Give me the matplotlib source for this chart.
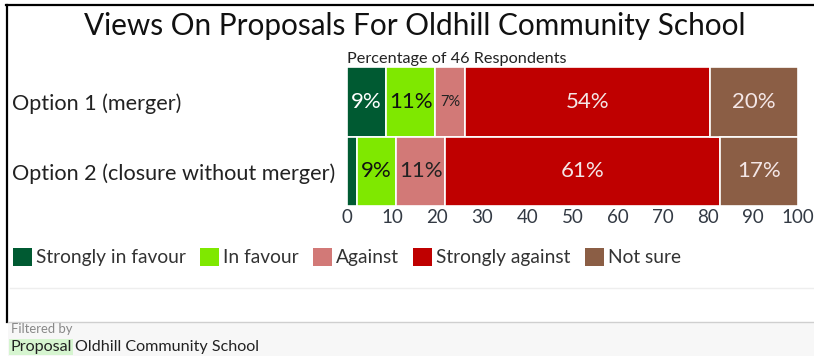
import matplotlib
matplotlib.use('Agg')
import matplotlib.pyplot as plt
from matplotlib.patches import Patch, Rectangle
from matplotlib.lines import Line2D
import numpy as np

plt.rcParams['font.family'] = ['Lato', 'DejaVu Sans']

# survey answers (number of respondents per option)
options = ['Option 1 (merger)', 'Option 2 (closure without merger)']
responses = ['Strongly in favour', 'In favour', 'Against', 'Strongly against', 'Not sure']
counts = [
    [4, 5, 3, 25, 9],
    [1, 4, 5, 28, 8],
]
respondents = 46
colors = ['#005a32', '#7fe800', '#d27977', '#bf0000', '#8b5e45']
label_colors = ['white', '#111111', '#222222', '#f4e6e6', '#f4e6e6']

W, H = 814, 356
fig = plt.figure(figsize=(W / 100, H / 100), dpi=100)
ax = fig.add_axes([347 / W, 1 - 206 / H, (798 - 347) / W, (206 - 67) / H])

pct = np.array(counts) / respondents * 100
y = np.arange(len(options))
left = np.zeros(len(options))
for j, resp in enumerate(responses):
    vals = pct[:, j]
    ax.barh(y, vals, left=left, height=1.0, color=colors[j],
            edgecolor='white', linewidth=1.2, label=resp)
    for i in range(len(options)):
        v = vals[i]
        if v >= 5:
            fs = 16 if v >= 8 else 10.5
            ax.text(left[i] + v / 2, y[i], '%d%%' % round(v), ha='center',
                    va='center', fontsize=fs, color=label_colors[j])
    left += vals

ax.set_xlim(0, 100)
ax.set_ylim(1.5, -0.5)
ax.set_xticks(range(0, 101, 10))
ax.set_yticks(y)
ax.set_yticklabels(options, ha='left', fontsize=15.6, color='#222222')
ax.tick_params(axis='y', length=0, pad=(347 - 12) * 0.72)
ax.tick_params(axis='x', length=0, pad=2, labelsize=13.5, labelcolor='#333a44')
for s in ax.spines.values():
    s.set_visible(False)

ax.text(0, 1.01, 'Percentage of 46 Respondents', transform=ax.transAxes,
        fontsize=11.7, color='#222222', va='bottom', ha='left')

fig.text(415 / W, 1 - 26 / H, 'Views On Proposals For Oldhill Community School',
         ha='center', va='center', fontsize=21.4, color='#111111')

# legend row
handles = [Patch(facecolor=c, edgecolor='none') for c in colors]
fig.legend(handles, responses, loc='center left', bbox_to_anchor=(13 / W, 1 - 257 / H),
           ncol=5, frameon=False, fontsize=13.75, handlelength=1.0, handleheight=1.15,
           handletextpad=0.2, columnspacing=0.75, borderaxespad=0, borderpad=0,
           labelcolor='#333333')

# frame lines and footer
fig.add_artist(Line2D([6 / W, 1], [1 - 5 / H, 1 - 5 / H], color='black', lw=1.6))
fig.add_artist(Line2D([7 / W, 7 / W], [1 - 5 / H, 1 - 322 / H], color='black', lw=1.6))
fig.add_artist(Line2D([10 / W, 1], [1 - 288 / H, 1 - 288 / H], color='#eeeeee', lw=1))
fig.add_artist(Rectangle((8 / W, 0), 1, 1 - 322 / H, transform=fig.transFigure,
                         facecolor='#f7f7f7', edgecolor='none'))
fig.add_artist(Line2D([8 / W, 1], [1 - 322 / H, 1 - 322 / H], color='#cfcfcf', lw=1))
fig.text(11 / W, 1 - 329 / H, 'Filtered by', fontsize=9.4, color='#888888',
         ha='left', va='center')
fig.text(10 / W, 1 - 347 / H, 'Proposal', fontsize=11.6, color='#222222', ha='left',
         va='center', bbox=dict(facecolor='#d6f5d0', edgecolor='none', pad=1))
fig.text(75 / W, 1 - 347 / H, 'Oldhill Community School', fontsize=11.6,
         color='#222222', ha='left', va='center')

fig.savefig('out.png', dpi=100)
